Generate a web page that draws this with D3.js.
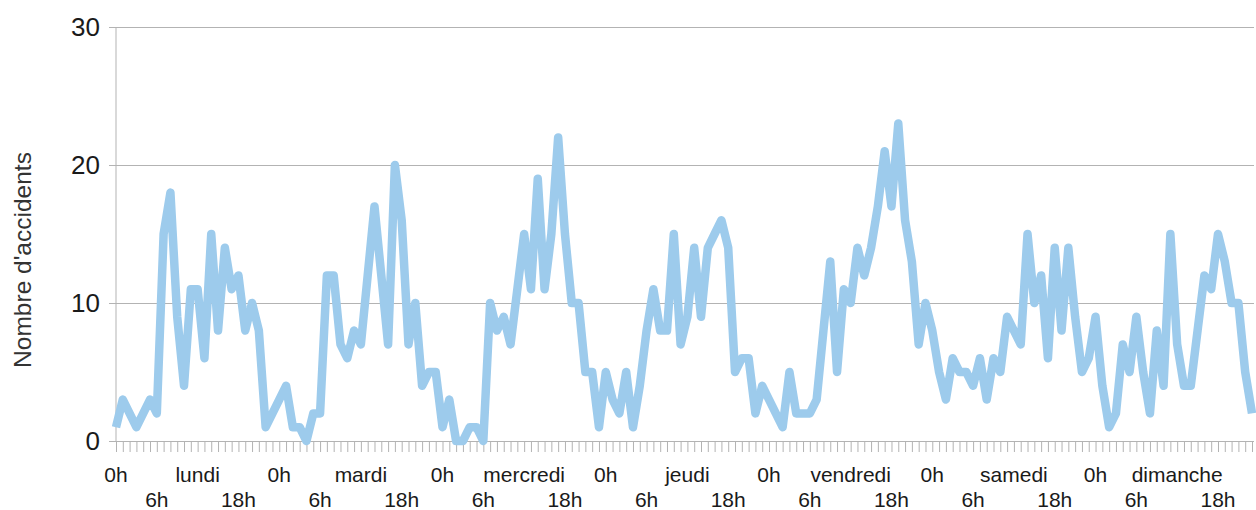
<!DOCTYPE html>
<html>
<head>
<meta charset="utf-8">
<script src="https://cdn.jsdelivr.net/npm/d3@7"></script>
<style>
  body { margin: 0; background: #fff; }
  svg { display: block; font-family: "Liberation Sans", Arial, sans-serif; }
</style>
</head>
<body>
<svg id="chart" width="1256" height="510"></svg>
<script>
// accidents par heure, une liste par jour (0h..23h)
var lundi    = [1,3,2,1,2,3,2,15,18,9,4,11,11,6,15,8,14,11,12,8,10,8,1,2];
var mardi    = [3,4,1,1,0,2,2,12,12,7,6,8,7,12,17,12,7,20,16,7,10,4,5,5];
var mercredi = [1,3,0,0,1,1,0,10,8,9,7,11,15,11,19,11,15,22,15,10,10,5,5,1];
var jeudi    = [5,3,2,5,1,4,8,11,8,8,15,7,9,14,9,14,15,16,14,5,6,6,2,4];
var vendredi = [3,2,1,5,2,2,2,3,8,13,5,11,10,14,12,14,17,21,17,23,16,13,7,10];
var samedi   = [8,5,3,6,5,5,4,6,3,6,5,9,8,7,15,10,12,6,14,8,14,9,5,6];
var dimanche = [9,4,1,2,7,5,9,5,2,8,4,15,7,4,4,8,12,11,15,13,10,10,5,2];

var days = ["lundi", "mardi", "mercredi", "jeudi", "vendredi", "samedi", "dimanche"];
var yTicks = [0, 10, 20, 30];

var counts = [].concat(lundi, mardi, mercredi, jeudi, vendredi, samedi, dimanche);

// ("top" est réservé par window, d'où les noms)
var plotLeft = 116, plotRight = 1254, plotTop = 27, plotBottom = 441;

var svg = d3.select("#chart");

var x = d3.scaleLinear().domain([0, counts.length - 1]).range([plotLeft, plotRight - 2]);
var y = d3.scaleLinear().domain([0, 30]).range([plotBottom, plotTop]);

// grille + axe y
var yAxis = svg.append("g")
  .attr("transform", "translate(" + plotLeft + ",0)")
  .call(d3.axisLeft(y).tickValues(yTicks).tickSize(-(plotRight - plotLeft)).tickPadding(16));
yAxis.select(".domain").remove();
yAxis.selectAll(".tick line").attr("stroke", "#b3b3b3").attr("x1", -7);
yAxis.selectAll(".tick text")
  .attr("font-size", 26).attr("fill", "#1a1a1a")
  .attr("font-family", "Liberation Sans, Arial, sans-serif");

svg.append("line")
  .attr("x1", plotLeft).attr("x2", plotLeft).attr("y1", plotTop).attr("y2", plotBottom)
  .attr("stroke", "#b3b3b3");

// axe x : un trait par heure
var xAxis = svg.append("g")
  .attr("transform", "translate(0," + plotBottom + ")")
  .call(d3.axisBottom(x).tickValues(d3.range(counts.length)).tickSize(11).tickFormat(""));
xAxis.select(".domain").attr("stroke", "#b3b3b3");
xAxis.selectAll(".tick line").attr("stroke", "#b3b3b3");

// libellés : 0h / jour sur la 1re ligne, 6h / 18h sur la 2e
var labels = [];
d3.range(counts.length).forEach(function(i) {
  var h = i % 24, d = Math.floor(i / 24);
  if (h === 0) labels.push({i: i, text: "0h", row: 0});
  if (h === 12) labels.push({i: i, text: days[d], row: 0});
  if (h === 6) labels.push({i: i, text: "6h", row: 1});
  if (h === 18) labels.push({i: i, text: "18h", row: 1});
});

svg.append("g").selectAll("text")
  .data(labels)
  .enter().append("text")
  .attr("x", function(d) { return x(d.i); })
  .attr("y", function(d) { return d.row ? 507 : 482; })
  .attr("text-anchor", "middle")
  .attr("font-size", 21)
  .attr("fill", "#1a1a1a")
  .text(function(d) { return d.text; });

// titre de l'axe y
svg.append("text")
  .attr("transform", "translate(31,260) rotate(-90)")
  .attr("text-anchor", "middle")
  .attr("font-size", 24.5)
  .attr("fill", "#333")
  .text("Nombre d'accidents");

// la courbe
var line = d3.line()
  .x(function(d, i) { return x(i); })
  .y(function(d) { return y(d); });

svg.append("path")
  .datum(counts)
  .attr("fill", "none")
  .attr("stroke", "#9dcbec")
  .attr("stroke-width", 8.5)
  .attr("stroke-linejoin", "round")
  .attr("d", line);
</script>
</body>
</html>
